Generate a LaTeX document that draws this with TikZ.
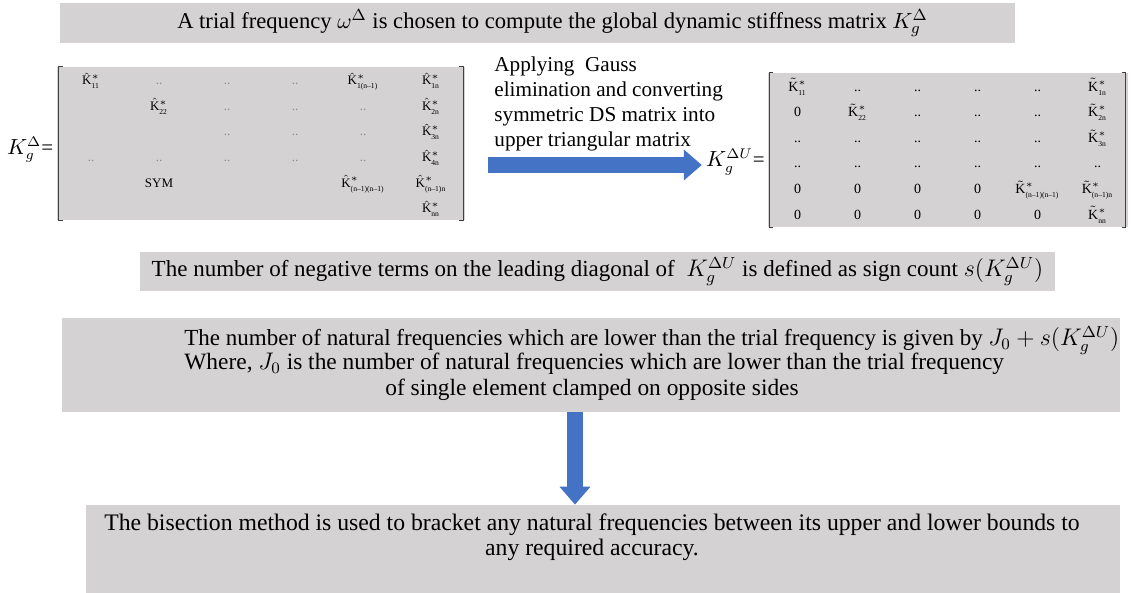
\documentclass[tikz,border=0pt]{standalone}
\usepackage{amsmath,amssymb}
\usepackage{fontspec}
\setmainfont{Liberation Serif}[Ligatures=TeX]
\newfontfamily\timesfont{Liberation Serif}[Ligatures=TeX]
\usepackage{array}
\usetikzlibrary{positioning,arrows.meta}

\definecolor{boxgray}{RGB}{212,210,210}
\definecolor{arrowblue}{RGB}{68,114,196}
\newcommand{\subtxt}[1]{\text{\fontsize{3.8}{4}\selectfont #1}}
\newcommand{\Kh}[1]{$\hat{\mathrm{K}}^{*}_{\subtxt{#1}}$}
\newcommand{\Kt}[1]{$\tilde{\mathrm{K}}^{*}_{\subtxt{#1}}$}
\newcommand{\dd}{\textcolor{black!45}{..}}
\newcommand{\fs}[1]{\timesfont\fontsize{#1}{12.5}\selectfont}

\begin{document}
\begin{tikzpicture}[x=0.5pt, y=-0.5pt,
      every node/.style={font=\timesfont},
      box/.style={rectangle, fill=boxgray, inner sep=0pt, align=center},
      txt/.style={inner sep=0pt},
      matbox/.style={rectangle, fill=boxgray, inner sep=0pt,
                  execute at begin node={\setlength{\tabcolsep}{0pt}}},
      bracket/.style={draw=black!75, line width=0.5pt},
      blockarrow/.style={draw=arrowblue, line width=8pt,
                  -{Triangle[length=9pt, width=15pt]}}]
    \useasboundingbox (0,0) rectangle (1131,593);

    % first step
    \node[box, font=\fs{11.3}, minimum width=477.5pt, minimum height=20pt] (trial) at (537.5,23)
      {\hspace*{15pt}A trial frequency $\omega^{\Delta}$ is chosen to compute the global dynamic stiffness matrix $K_g^{\Delta}$};

    % global DS matrix
    \node[matbox, font=\timesfont\fontsize{6.5}{12.8}\selectfont] (lmat) at (261,143.5) {%
      \begin{tabular}{*{6}{wc{34pt}}}
        \Kh{11} & \dd & \dd & \dd & \Kh{1(n--1)} & \Kh{1n}\\
                & \Kh{22} & \dd & \dd & \dd & \Kh{2n}\\
                &        & \dd & \dd & \dd & \Kh{3n}\\
        \dd     & \dd    & \dd & \dd & \dd & \Kh{4n}\\
                & SYM    &     &     & \Kh{(n--1)(n--1)} & \Kh{(n--1)n}\\
                &        &     &     &     & \Kh{nn}
      \end{tabular}};
    \node[txt, font=\fs{10.5}, left=1.5pt of lmat, yshift=-3pt] (kg) {$K_g^{\Delta}$=};
    \draw[bracket] ([xshift=3pt]lmat.north west) -- ([xshift=1pt]lmat.north west)
      -- ([xshift=1pt]lmat.south west) -- ([xshift=3pt]lmat.south west);
    \draw[bracket] ([xshift=-3pt]lmat.north east) -- ([xshift=-1pt]lmat.north east)
      -- ([xshift=-1pt]lmat.south east) -- ([xshift=-3pt]lmat.south east);

    % Gauss elimination
    \node[inner sep=0pt, anchor=north west, align=left, font=\fs{10.6}] (gauss) at (494,56)
      {Applying \ Gauss\\elimination and converting\\symmetric DS matrix into\\upper triangular matrix};

    % upper triangular matrix
    \node[matbox, font=\timesfont\fontsize{7}{12.8}\selectfont] (rmat) at (947.5,150) {%
      \begin{tabular}{*{6}{wc{30pt}}}
        \Kt{11} & ..      & ..  & ..  & ..  & \Kt{1n}\\
        0       & \Kt{22} & ..  & ..  & ..  & \Kt{2n}\\
        ..      & ..      & ..  & ..  & ..  & \Kt{3n}\\
        ..      & ..      & ..  & ..  & ..  & ..\\
        0       & 0       & 0   & 0   & \Kt{(n--1)(n--1)} & \Kt{(n--1)n}\\
        0       & 0       & 0   & 0   & 0   & \Kt{nn}
      \end{tabular}};
    \node[txt, font=\fs{10.5}, left=1pt of rmat, yshift=-6pt] (kgu) {$K_g^{\Delta U}$=};
    \draw[bracket] ([xshift=3pt]rmat.north west) -- ([xshift=1pt]rmat.north west)
      -- ([xshift=1pt]rmat.south west) -- ([xshift=3pt]rmat.south west);
    \draw[bracket] ([xshift=-3pt]rmat.north east) -- ([xshift=-1pt]rmat.north east)
      -- ([xshift=-1pt]rmat.south east) -- ([xshift=-3pt]rmat.south east);

    \coordinate (gstart) at (488,165);
    \draw[blockarrow, shorten >=2pt] (gstart) -- (gstart -| kgu.west);

    % sign count
    \node[box, font=\fs{11.5}, minimum width=457.5pt, minimum height=19.5pt] (sign) at (597.5,271.5)
      {The number of negative terms on the leading diagonal of \ $K_g^{\Delta U}$ is defined as sign count $s(K_g^{\Delta U})$};

    % number of natural frequencies
    \node[box, minimum width=529pt, minimum height=47pt] (count) at (591,365) {};
    \node[txt, font=\fs{11.5}, anchor=base west] (c1) at (184,346)
      {The number of natural frequencies which are lower than the trial frequency is given by $J_0 + s(K_g^{\Delta U})$};
    \node[txt, font=\fs{11.7}, anchor=base west] (c2) at (184,370)
      {Where, $J_0$ is the number of natural frequencies which are lower than the trial frequency};
    \node[txt, font=\fs{11.7}, anchor=base] (c3) at (592,396)
      {of single element clamped on opposite sides};

    % bisection
    \node[box, minimum width=517pt, minimum height=44pt] (bisect) at (603,549) {};
    \node[txt, font=\fs{11.85}, align=center] (b1) at (592,537)
      {The bisection method is used to bracket any natural frequencies between its upper and lower bounds to\\any required accuracy.};

    \draw[blockarrow] (count.south -| 575,0) -- (bisect.north -| 575,0);
  \end{tikzpicture}
\end{document}
